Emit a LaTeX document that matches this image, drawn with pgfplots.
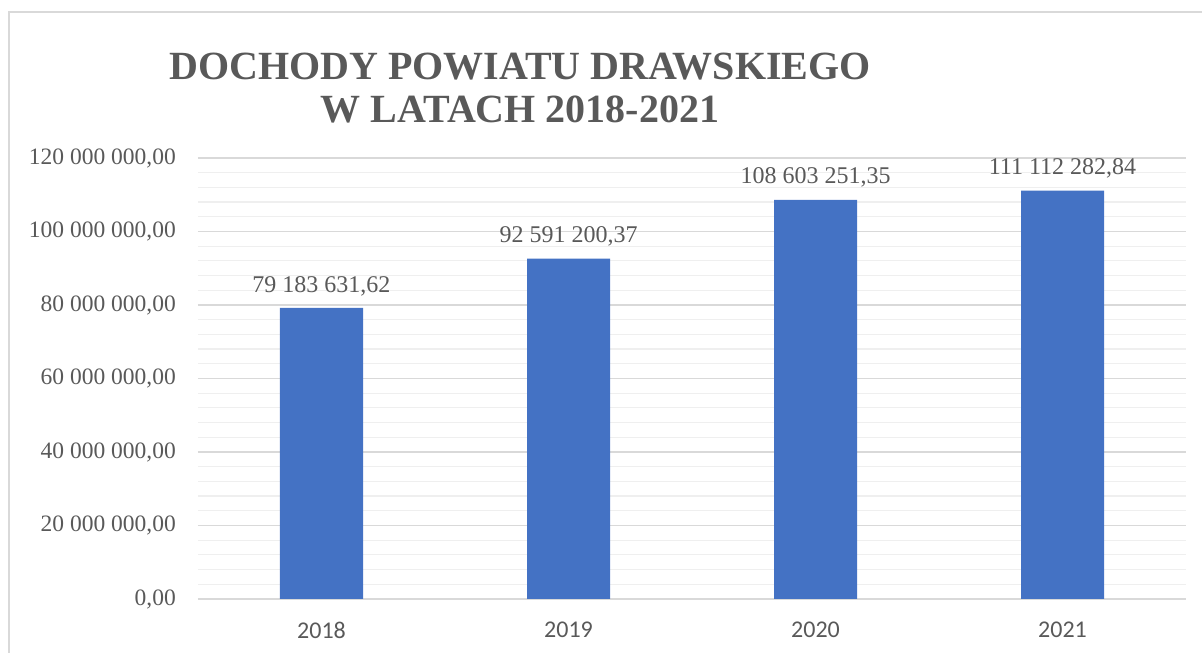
\documentclass[border=0pt]{standalone}
\usepackage{pgfplots}
\pgfplotsset{compat=1.18}
\usepackage{fontspec}
\setmainfont{Liberation Serif}
\newfontfamily\tnr{Liberation Serif}
\newfontfamily\tnrb{Liberation Serif Bold}
\newfontfamily\calib{Carlito}
\definecolor{barblue}{HTML}{4472C4}
\definecolor{txtgray}{HTML}{595959}
\definecolor{gridmaj}{HTML}{D9D9D9}
\definecolor{gridmin}{HTML}{EFEFEF}
\begin{document}
\begin{tikzpicture}[x=1pt,y=1pt]
\useasboundingbox (0,0) rectangle (1202,653);
\draw[gridmaj, line width=1.5pt] (9,-20) -- (9,641) -- (1230,641);
\node[font=\tnrb\fontsize{40}{43}\selectfont, text=txtgray, anchor=base] at (520,573) {DOCHODY POWIATU DRAWSKIEGO};
\node[font=\tnrb\fontsize{40}{43}\selectfont, text=txtgray, anchor=base] at (520,530) {W LATACH 2018-2021};
\begin{axis}[
  at={(198pt,54pt)}, anchor=south west,
  scale only axis, width=988pt, height=441pt,
  xmin=-0.5, xmax=3.5, ymin=0, ymax=120000000,
  scaled y ticks=false,
  ybar, bar width=83pt,
  axis line style={draw=none},
  major tick length=0pt, minor tick length=0pt,
  xtick={0,1,2,3}, xticklabels={2018,2019,2020,2021},
  ytick={0,20000000,40000000,60000000,80000000,100000000,120000000},
  yticklabels={{0,00},{20 000 000,00},{40 000 000,00},{60 000 000,00},{80 000 000,00},{100 000 000,00},{120 000 000,00}},
  minor y tick num=4,
  ymajorgrids, yminorgrids,
  major grid style={gridmaj, line width=1.2pt},
  minor grid style={gridmin, line width=1.2pt},
  yticklabel style={font=\tnr\fontsize{23.5}{26}\selectfont, text=txtgray, anchor=east, inner sep=0pt, xshift=-22pt},
  xticklabel style={font=\calib\fontsize{24}{26}\selectfont, text=txtgray, anchor=north, inner sep=0pt, yshift=-23pt},
  nodes near coords,
  point meta=explicit symbolic,
  every node near coord/.append style={font=\tnr\fontsize{24}{26}\selectfont, text=txtgray, anchor=south, inner sep=0pt, yshift=12pt},
]
\addplot[fill=barblue, draw=none] coordinates {
  (0,79183631.62) [79 183 631,62]
  (1,92591200.37) [92 591 200,37]
  (2,108603251.35) [108 603 251,35]
  (3,111112282.84) [111 112 282,84]
};
\end{axis}
\end{tikzpicture}
\end{document}
